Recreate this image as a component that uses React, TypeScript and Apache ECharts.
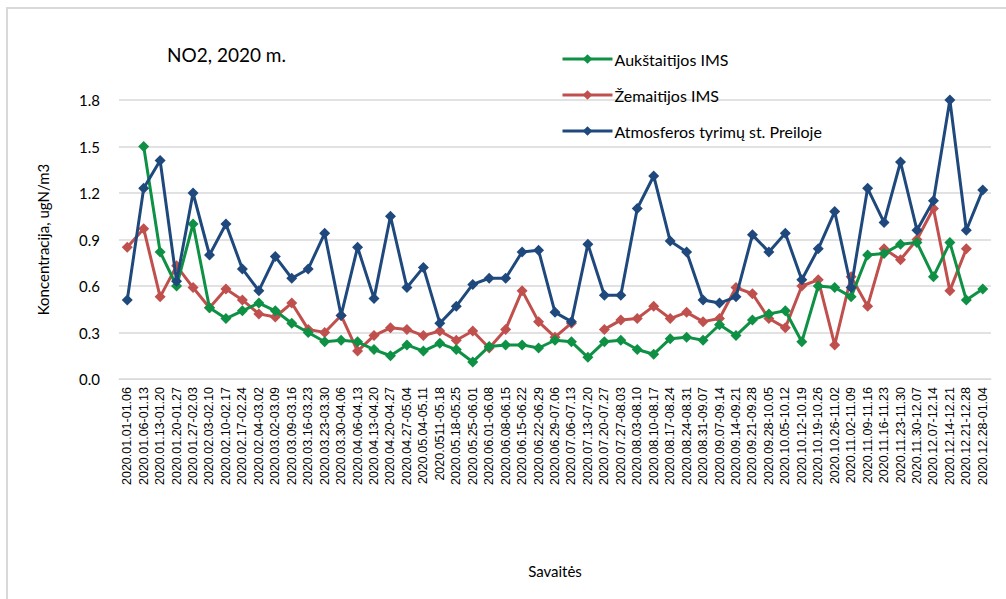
import React, { useEffect, useRef } from "react";
import * as echarts from "echarts";

const categories: string[] = [
  "2020.01.01-01.06", "2020.01.06-01.13", "2020.01.13-01.20", "2020.01.20-01.27",
  "2020.01.27-02.03", "2020.02.03-02.10", "2020.02.10-02.17", "2020.02.17-02.24",
  "2020.02.04-03.02", "2020.03.02-03.09", "2020.03.09-03.16", "2020.03.16-03.23",
  "2020.03.23-03.30", "2020.03.30-04.06", "2020.04.06-04.13", "2020.04.13-04.20",
  "2020.04.20-04.27", "2020.04.27-05.04", "2020.05.04-05.11", "2020.0511-05.18",
  "2020.05.18-05.25", "2020.05.25-06.01", "2020.06.01-06.08", "2020.06.08-06.15",
  "2020.06.15-06.22", "2020.06.22-06.29", "2020.06.29-07.06", "2020.07.06-07.13",
  "2020.07.13-07.20", "2020.07.20-07.27", "2020.07.27-08.03", "2020.08.03-08.10",
  "2020.08.10-08.17", "2020.08.17-08.24", "2020.08.24-08.31", "2020.08.31-09.07",
  "2020.09.07-09.14", "2020.09.14-09.21", "2020.09.21-09.28", "2020.09.28-10.05",
  "2020.10.05-10.12", "2020.10.12-10.19", "2020.10.19-10.26", "2020.10.26-11.02",
  "2020.11.02-11.09", "2020.11.09-11.16", "2020.11.16-11.23", "2020.11.23-11.30",
  "2020.11.30-12.07", "2020.12.07-12.14", "2020.12.14-12.21", "2020.12.21-12.28",
  "2020.12.28-01.04",
];

const aukstaitija: (number | null)[] = [
  null, 1.50, 0.82, 0.60, 1.00, 0.46, 0.39, 0.44, 0.49, 0.44, 0.36, 0.30, 0.24,
  0.25, 0.24, 0.19, 0.15, 0.22, 0.18, 0.23, 0.19, 0.11, 0.21, 0.22, 0.22, 0.20,
  0.25, 0.24, 0.14, 0.24, 0.25, 0.19, 0.16, 0.26, 0.27, 0.25, 0.35, 0.28, 0.38,
  0.42, 0.44, 0.24, 0.60, 0.59, 0.53, 0.80, 0.81, 0.87, 0.88, 0.66, 0.88, 0.51, 0.58,
];

const zemaitija: (number | null)[] = [
  0.85, 0.97, 0.53, 0.73, 0.59, 0.46, 0.58, 0.51, 0.42, 0.40, 0.49, 0.32, 0.30,
  0.41, 0.18, 0.28, 0.33, 0.32, 0.28, 0.31, 0.25, 0.31, 0.20, 0.32, 0.57, 0.37,
  0.27, 0.36, null, 0.32, 0.38, 0.39, 0.47, 0.39, 0.43, 0.37, 0.39, 0.59, 0.55,
  0.39, 0.33, 0.60, 0.64, 0.22, 0.66, 0.47, 0.84, 0.77, 0.90, 1.10, 0.57, 0.84, null,
];

const preila: (number | null)[] = [
  0.51, 1.23, 1.41, 0.63, 1.20, 0.80, 1.00, 0.71, 0.57, 0.79, 0.65, 0.71, 0.94,
  0.41, 0.85, 0.52, 1.05, 0.59, 0.72, 0.36, 0.47, 0.61, 0.65, 0.65, 0.82, 0.83,
  0.43, 0.37, 0.87, 0.54, 0.54, 1.10, 1.31, 0.89, 0.82, 0.51, 0.49, 0.53, 0.93,
  0.82, 0.94, 0.64, 0.84, 1.08, 0.59, 1.23, 1.01, 1.40, 0.96, 1.15, 1.80, 0.96, 1.22,
];

const seriesNames = ["Aukštaitijos IMS", "Žemaitijos IMS", "Atmosferos tyrimų st. Preiloje"];
const seriesColors = ["#0E9144", "#C0504D", "#1F497D"];

const FONT = "Lato, 'Open Sans', sans-serif";

export default function App() {
  const ref = useRef<HTMLDivElement>(null);
  useEffect(() => {
    if (!ref.current) return;
    const chart = echarts.init(ref.current, undefined, { renderer: "svg" });
    const datasets = [aukstaitija, zemaitija, preila];
    chart.setOption({
      animation: false,
      backgroundColor: "#ffffff",
      textStyle: { fontFamily: FONT },
      grid: { left: 119, right: 15, top: 100, bottom: 220, containLabel: false },
      graphic: [
        {
          type: "rect",
          shape: { x: 7, y: 8, width: 1010, height: 600 },
          style: { fill: "none", stroke: "#d9d9d9", lineWidth: 2 },
          silent: true,
        },
        {
          type: "text",
          left: 167,
          top: 45,
          style: { text: "NO2, 2020 m.", fontSize: 19, fontFamily: FONT, fill: "#000" },
        },
      ],
      legend: {
        orient: "vertical",
        left: 556,
        top: 46,
        itemWidth: 50,
        itemHeight: 12,
        itemGap: 20,
        data: seriesNames,
        lineStyle: { width: 3 },
        textStyle: { fontSize: 16, color: "#000", fontFamily: FONT, padding: [0, 0, 0, -3] },
      },
      xAxis: {
        type: "category",
        data: categories,
        boundaryGap: true,
        name: "Savaitės",
        nameLocation: "middle",
        nameGap: 184,
        nameTextStyle: { fontSize: 15, color: "#000", fontFamily: FONT },
        axisLine: { lineStyle: { color: "#d9d9d9", width: 1 } },
        axisTick: { show: false },
        axisLabel: {
          rotate: 90,
          interval: 0,
          fontSize: 12.5,
          color: "#000",
          margin: 8,
          fontFamily: "'Liberation Sans', Arial, sans-serif",
        },
      },
      yAxis: {
        type: "value",
        min: 0,
        max: 1.8,
        interval: 0.3,
        name: "Koncentracija, ugN/m3",
        nameLocation: "middle",
        nameRotate: 90,
        nameGap: 69,
        nameTextStyle: { fontSize: 15, color: "#000", fontFamily: FONT },
        axisLine: { show: false },
        axisTick: { show: false },
        axisLabel: {
          fontSize: 15,
          color: "#000",
          margin: 19,
          fontFamily: FONT,
          formatter: (v: number) => v.toFixed(1),
        },
        splitLine: { lineStyle: { color: "#d9d9d9", width: 1.5 } },
      },
      series: seriesNames.map((name, i) => ({
        name,
        type: "line",
        data: datasets[i],
        connectNulls: false,
        symbol: "diamond",
        symbolSize: 11,
        lineStyle: { width: 3, color: seriesColors[i] },
        itemStyle: { color: seriesColors[i] },
        z: i === 2 ? 3 : i === 0 ? 2 : 1,
      })),
    });
    return () => chart.dispose();
  }, []);
  return (
    <div
      ref={ref}
      style={{ position: "fixed", left: 0, top: 0, width: 1006, height: 599 }}
    />
  );
}
